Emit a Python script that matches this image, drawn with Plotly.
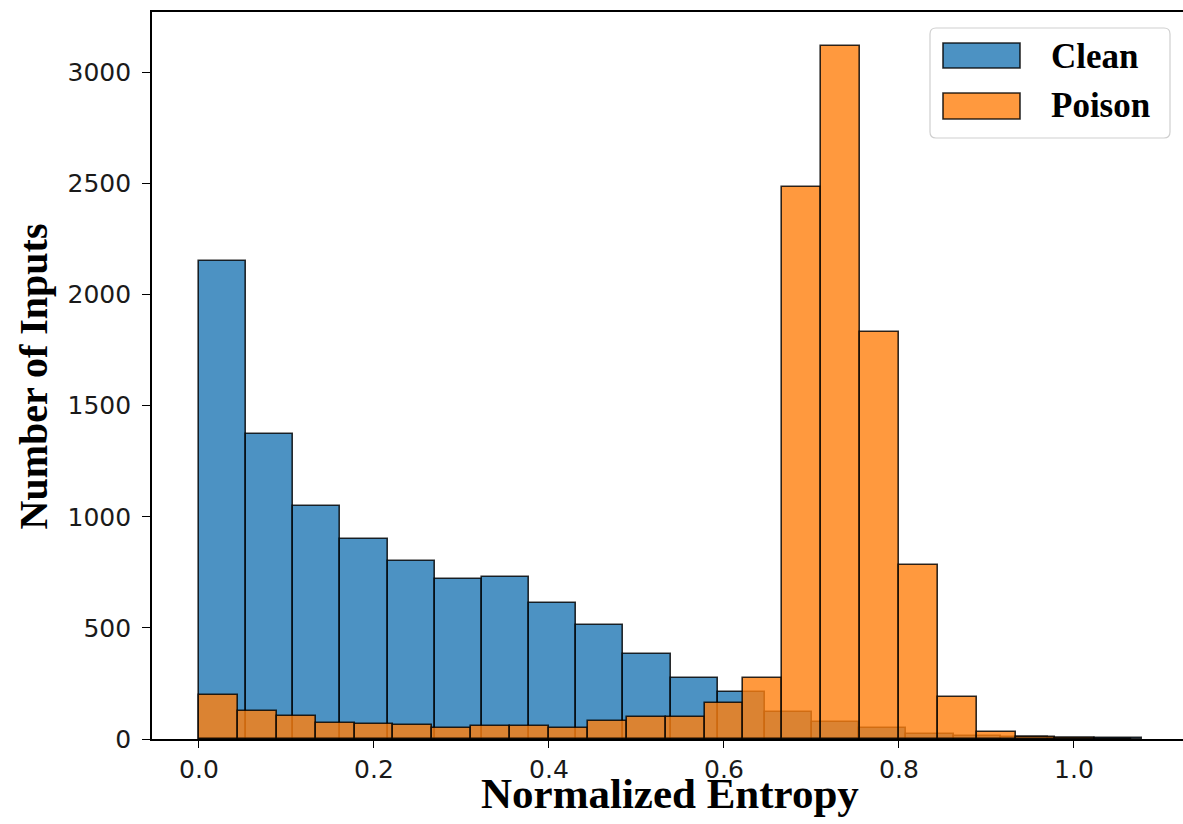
import numpy as np
import plotly.graph_objects as go

# ---------------- data ----------------
clean_counts = [2152, 1374, 1050, 901, 802, 720, 730, 613, 514, 383,
                276, 210, 123, 78, 48, 22, 14, 8, 5, 3]
poison_counts = [198, 126, 103, 73, 66, 63, 48, 60, 58, 50,
                 81, 98, 98, 164, 273, 2483, 3120, 1833, 783, 190,
                 33, 7, 4, 2]
clean_bin_start = 0.0
clean_bin_width = 0.0539
poison_bin_start = 0.0
poison_bin_width = 0.04445
x_tick_values = [0.0, 0.2, 0.4, 0.6, 0.8, 1.0]
y_tick_values = [0, 500, 1000, 1500, 2000, 2500, 3000]
series_names = ["Clean", "Poison"]
x_title = "Normalized Entropy"
y_title = "Number of Inputs"

# ---------------- styling ----------------
W, H = 1183, 824
ML, MR, MT, MB = 152, 0, 12, 85
PW, PH = W - ML - MR, H - MT - MB
BLUE = "rgba(31,119,180,0.8)"
ORANGE = "rgba(255,127,14,0.8)"
EDGE = "rgba(0,0,0,0.82)"
SERIF = "Liberation Serif, Times New Roman, serif"
SANS = "DejaVu Sans, sans-serif"


def px_x(px):
    return (px - ML) / PW


def px_y(py):
    return (H - MB - py) / PH


clean_centers = clean_bin_start + (np.arange(len(clean_counts)) + 0.5) * clean_bin_width
poison_centers = poison_bin_start + (np.arange(len(poison_counts)) + 0.5) * poison_bin_width

fig = go.Figure()
fig.add_trace(go.Bar(
    x=clean_centers, y=clean_counts, width=clean_bin_width, name=series_names[0],
    marker=dict(color=BLUE, line=dict(color=EDGE, width=1.6)), showlegend=False,
))
fig.add_trace(go.Bar(
    x=poison_centers, y=poison_counts, width=poison_bin_width, name=series_names[1],
    marker=dict(color=ORANGE, line=dict(color=EDGE, width=1.6)), showlegend=False,
))

fig.update_layout(
    width=W, height=H, autosize=False,
    margin=dict(l=ML, r=MR, t=MT, b=MB, pad=0),
    paper_bgcolor="white", plot_bgcolor="white",
    barmode="overlay", bargap=0,
    showlegend=False,
)
fig.update_xaxes(
    range=[-0.0537, 1.1246],
    tickvals=x_tick_values, ticktext=[f"{v:.1f}" for v in x_tick_values],
    showline=True, linecolor="black", linewidth=1.6, mirror=True,
    ticks="outside", ticklen=7, tickwidth=1.4, tickcolor="black",
    showgrid=False, zeroline=False,
    tickfont=dict(family=SANS, size=25, color="#1a1a1a"),
    ticklabelstandoff=0,
)
fig.update_yaxes(
    range=[0, 3272],
    tickvals=y_tick_values, ticktext=[str(v) for v in y_tick_values],
    showline=True, linecolor="black", linewidth=1.6, mirror=False,
    ticks="outside", ticklen=8, tickwidth=1.4, tickcolor="black",
    showgrid=False, zeroline=False,
    tickfont=dict(family=SANS, size=25, color="#1a1a1a"),
    ticklabelstandoff=6,
)

annotations = [
    dict(text=f"<b>{x_title}</b>", x=px_x(670), y=px_y(793), xref="paper", yref="paper",
         xanchor="center", yanchor="middle", showarrow=False,
         font=dict(family=SERIF, size=43, color="black")),
    dict(text=f"<b>{y_title}</b>", x=px_x(33.5), y=px_y(377), xref="paper", yref="paper",
         xanchor="center", yanchor="middle", showarrow=False, textangle=-90,
         font=dict(family=SERIF, size=40, color="black")),
]

# ---------------- manual legend (matplotlib-like) ----------------
shapes = []
bx0, bx1, by0, by1, r = 930, 1170, 28, 138, 6
pts = [
    ("M", bx0 + r, by0), ("L", bx1 - r, by0), ("Q", bx1, by0, bx1, by0 + r),
    ("L", bx1, by1 - r), ("Q", bx1, by1, bx1 - r, by1),
    ("L", bx0 + r, by1), ("Q", bx0, by1, bx0, by1 - r),
    ("L", bx0, by0 + r), ("Q", bx0, by0, bx0 + r, by0),
]
path = ""
for p in pts:
    cmd = p[0]
    coords = p[1:]
    seg = cmd
    for i in range(0, len(coords), 2):
        seg += f" {px_x(coords[i]):.5f},{px_y(coords[i + 1]):.5f}"
    path += seg + " "
path += "Z"
shapes.append(dict(type="path", path=path, xref="paper", yref="paper",
                   fillcolor="rgba(255,255,255,0.8)", line=dict(color="#cfcfcf", width=1.2)))

legend_rows = [(series_names[0], BLUE, 43, 68, 56), (series_names[1], ORANGE, 93, 119, 106)]
for name, col, y0, y1, yc in legend_rows:
    shapes.append(dict(type="rect", xref="paper", yref="paper",
                       x0=px_x(943), x1=px_x(1020), y0=px_y(y1), y1=px_y(y0),
                       fillcolor=col, line=dict(color=EDGE, width=1.6)))
    annotations.append(dict(text=f"<b>{name}</b>", x=px_x(1049), y=px_y(yc),
                            xref="paper", yref="paper", xanchor="left", yanchor="middle",
                            showarrow=False, font=dict(family=SERIF, size=35, color="black")))

fig.update_layout(shapes=shapes, annotations=annotations)
fig.write_html("out.html", config={"displayModeBar": False})

# remove the browser's default page margin so the figure sits at (0, 0)
with open("out.html", "r", encoding="utf-8") as f:
    html = f.read()
html = html.replace("<head>", "<head><style>html,body{margin:0;padding:0;overflow:hidden;}</style>", 1)
with open("out.html", "w", encoding="utf-8") as f:
    f.write(html)
